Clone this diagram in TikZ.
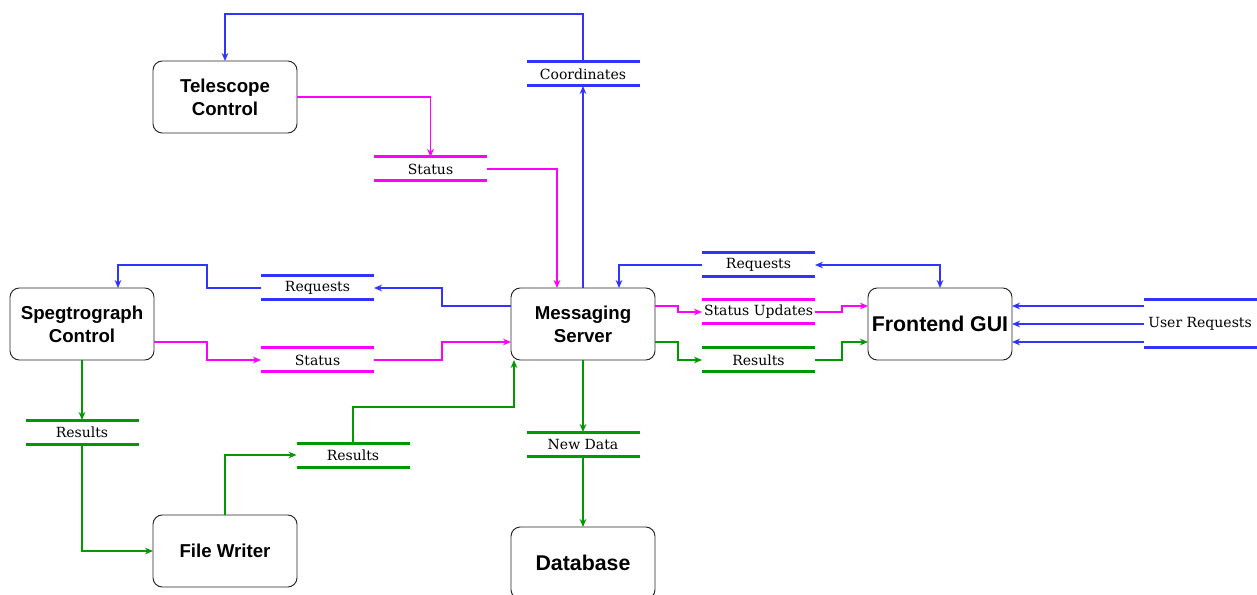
\documentclass[tikz,border=0pt]{standalone}
\usepackage{fontspec}
\setmainfont{DejaVu Serif}
\setsansfont{Liberation Sans}
\usepackage{tikz}
\usetikzlibrary{positioning, arrows.meta}
\definecolor{flowblue}{RGB}{51,51,255}
\definecolor{flowpink}{RGB}{255,0,255}
\definecolor{flowgreen}{RGB}{0,153,0}

\begin{document}
\begin{tikzpicture}[
  x=0.75pt, y=-0.75pt,
  box/.style={draw=black!85, rounded corners=7pt, line width=0.7pt, align=center, minimum width=108pt, minimum height=54pt, inner sep=2pt, outer sep=0pt, font=\sffamily\bfseries\fontsize{14}{17}\selectfont},
  bigbox/.style={box, font=\sffamily\bfseries\fontsize{16}{19}\selectfont},
  store/.style={minimum width=84.75pt, minimum height=18pt, inner sep=0pt, outer sep=0pt, font=\fontsize{10.5}{12}\selectfont},
  storeline/.style={-, line width=2.25pt},
  flow/.style={draw=#1, line width=1.1pt, ->},
  >={Stealth[length=6pt, width=5pt]}
]
\useasboundingbox (0,0) rectangle (1257,595);

% Processes
\node[box] (telescope) at (225,97) {Telescope\\Control};
\node[box] (spectro) at (82,324) {Spegtrograph\\Control};
\node[box] (messaging) at (583,324) {Messaging\\Server};
\node[bigbox] (frontend) at (940,324) {Frontend GUI};
\node[box] (writer) at (225,551) {File Writer};
\node[bigbox] (database) at (583,563) {Database};

% Data stores
\node[store] (coords) at (583,74) {Coordinates};
\node[store] (telstatus) at (430.5,169) {Status};
\node[store] (specreq) at (317.5,288) {Requests};
\node[store] (specstatus) at (317.5,360) {Status};
\node[store] (guireq) at (758.5,265) {Requests};
\node[store] (updates) at (758.5,312) {Status Updates};
\node[store] (guiresults) at (758.5,360) {Results};
\node[store, minimum height=36pt] (userreq) at (1200,324) {User Requests};
\node[store] (specresults) at (82,432) {Results};
\node[store] (writerresults) at (353,455) {Results};
\node[store] (newdata) at (583,444) {New Data};

\foreach \s/\c in {coords/flowblue, specreq/flowblue, guireq/flowblue, userreq/flowblue,
  telstatus/flowpink, specstatus/flowpink, updates/flowpink,
  guiresults/flowgreen, specresults/flowgreen, writerresults/flowgreen, newdata/flowgreen}
  \draw[storeline, draw=\c] (\s.north west) -- (\s.north east) (\s.south west) -- (\s.south east);

% Connections
\draw[flow=flowblue] (coords.north) -- ++(0,-48) -| (telescope.north);
\draw[flow=flowblue] (messaging.north) -- (coords.south);
\draw[flow=flowblue] ([yshift=13.5pt]messaging.west) -- ++(-69,0) |- (specreq.east);
\draw[flow=flowblue] (specreq.west) -- ++(-54,0) -- ++(0,-23) -| ([xshift=27pt]spectro.north);
\draw[flow=flowblue] (guireq.west) -| ([xshift=27pt]messaging.north);
\draw[flow=flowblue, <->] (guireq.east) -| (frontend.north);
\foreach \dy in {13.5pt, 0pt, -13.5pt}
  \draw[flow=flowblue] ([yshift=\dy]userreq.west) -- ([yshift=\dy]frontend.east);

\draw[flow=flowpink] (telescope.east) -| (telstatus.north);
\draw[flow=flowpink] (telstatus.east) -| ([xshift=-19.5pt]messaging.north);
\draw[flow=flowpink] ([yshift=-13.5pt]spectro.east) -- ++(53,0) |- (specstatus.west);
\draw[flow=flowpink] (specstatus.east) -- ++(68,0) |- ([yshift=-13.5pt]messaging.west);
\draw[flow=flowpink] ([yshift=13.5pt]messaging.east) -- ++(23,0) |- (updates.west);
\draw[flow=flowpink] (updates.east) -- ++(27,0) |- ([yshift=13.5pt]frontend.west);

\draw[flow=flowgreen] ([yshift=-13.5pt]messaging.east) -- ++(23,0) |- (guiresults.west);
\draw[flow=flowgreen] (guiresults.east) -- ++(27,0) |- ([yshift=-13.5pt]frontend.west);
\draw[flow=flowgreen] (spectro.south) -- (specresults.north);
\draw[flow=flowgreen] (specresults.south) |- (writer.west);
\draw[flow=flowgreen] (writer.north) |- (writerresults.west);
\draw[flow=flowgreen] (writerresults.north) -- ++(0,-36) -| ([xshift=-51.75pt]messaging.south);
\draw[flow=flowgreen] (messaging.south) -- (newdata.north);
\draw[flow=flowgreen] (newdata.south) -- (database.north);

\end{tikzpicture}
\end{document}
